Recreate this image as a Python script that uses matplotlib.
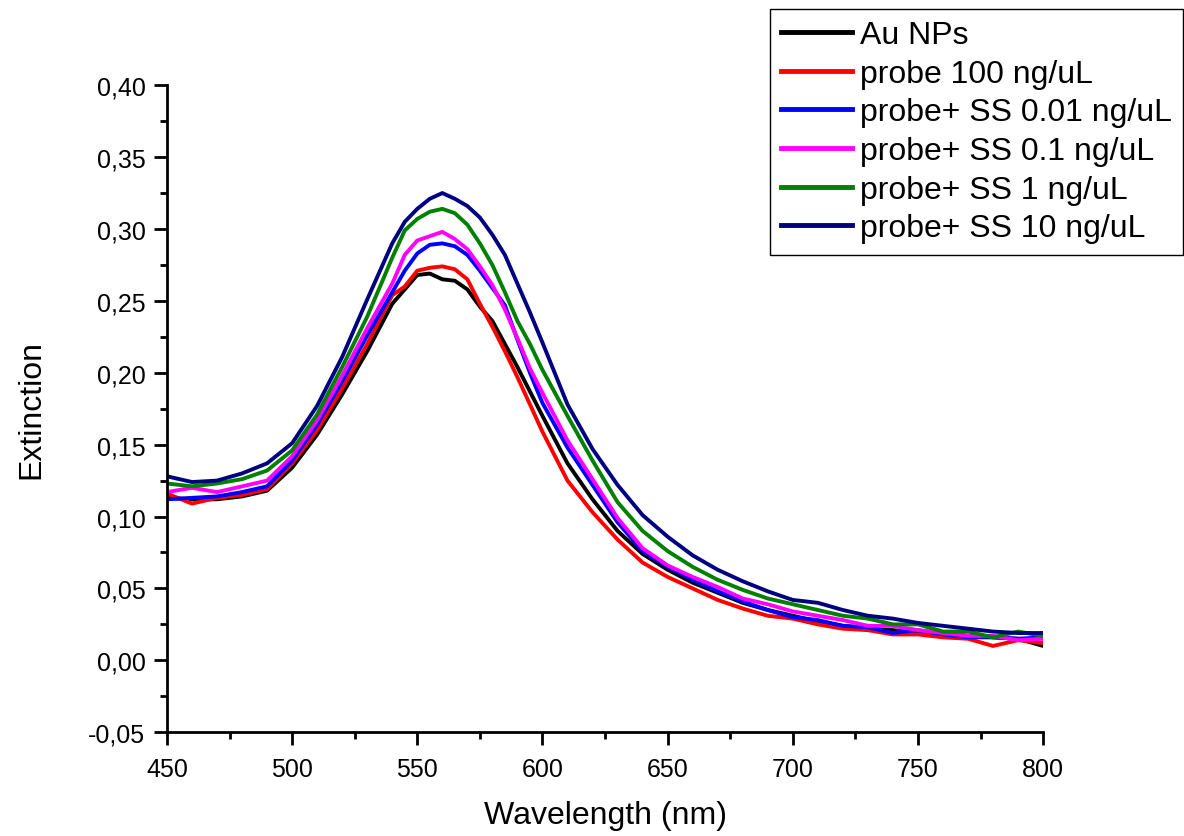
#!/usr/bin/env python3
"""Extinction spectra of Au NPs with probe / SS additions (Origin-style plot)."""

import matplotlib
matplotlib.use("Agg")
import matplotlib.pyplot as plt
import matplotlib.ticker as mticker

# Wavelength grid (nm).
WAVELENGTH = [450, 460, 470, 480, 490, 500, 510, 520, 530, 540, 545, 550, 555,
              560, 565, 570, 575, 580, 585, 590, 595, 600, 610, 620, 630, 640,
              650, 660, 670, 680, 690, 700, 710, 720, 730, 740, 750, 760, 770,
              780, 790, 800]

AU_NPS = [0.113, 0.112, 0.112, 0.114, 0.118, 0.134, 0.157, 0.185, 0.215, 0.248,
          0.258, 0.268, 0.269, 0.265, 0.264, 0.258, 0.246, 0.236, 0.220, 0.204,
          0.187, 0.170, 0.137, 0.112, 0.090, 0.074, 0.063, 0.054, 0.047, 0.040,
          0.035, 0.031, 0.027, 0.024, 0.022, 0.021, 0.019, 0.019, 0.017, 0.016,
          0.015, 0.010]
PROBE_100 = [0.116, 0.109, 0.113, 0.115, 0.119, 0.137, 0.160, 0.189, 0.220, 0.254,
             0.260, 0.271, 0.273, 0.274, 0.272, 0.265, 0.248, 0.232, 0.215, 0.197,
             0.178, 0.159, 0.125, 0.103, 0.084, 0.068, 0.058, 0.050, 0.042, 0.036,
             0.031, 0.029, 0.025, 0.022, 0.021, 0.018, 0.018, 0.016, 0.015, 0.010,
             0.014, 0.012]
SS_001 = [0.112, 0.113, 0.114, 0.117, 0.121, 0.139, 0.164, 0.194, 0.226, 0.256,
          0.271, 0.283, 0.289, 0.290, 0.288, 0.282, 0.271, 0.259, 0.247, 0.223,
          0.200, 0.179, 0.148, 0.122, 0.096, 0.076, 0.065, 0.056, 0.048, 0.041,
          0.035, 0.030, 0.028, 0.024, 0.023, 0.019, 0.021, 0.018, 0.016, 0.016,
          0.015, 0.016]
SS_01 = [0.117, 0.120, 0.117, 0.121, 0.125, 0.142, 0.167, 0.198, 0.231, 0.262,
         0.282, 0.292, 0.295, 0.298, 0.293, 0.286, 0.274, 0.261, 0.244, 0.224,
         0.203, 0.186, 0.153, 0.126, 0.099, 0.078, 0.066, 0.058, 0.051, 0.043,
         0.039, 0.034, 0.031, 0.028, 0.024, 0.024, 0.021, 0.019, 0.017, 0.017,
         0.014, 0.015]
SS_1 = [0.123, 0.121, 0.123, 0.126, 0.132, 0.146, 0.171, 0.204, 0.239, 0.280,
        0.299, 0.307, 0.312, 0.314, 0.311, 0.303, 0.290, 0.275, 0.256, 0.236,
        0.220, 0.202, 0.170, 0.139, 0.110, 0.090, 0.076, 0.065, 0.056, 0.049,
        0.043, 0.039, 0.035, 0.031, 0.029, 0.025, 0.025, 0.020, 0.020, 0.016,
        0.020, 0.017]
SS_10 = [0.128, 0.124, 0.125, 0.130, 0.137, 0.151, 0.177, 0.211, 0.251, 0.290,
         0.305, 0.314, 0.321, 0.325, 0.321, 0.316, 0.308, 0.296, 0.282, 0.262,
         0.242, 0.221, 0.178, 0.147, 0.122, 0.101, 0.086, 0.073, 0.063, 0.055,
         0.048, 0.042, 0.040, 0.035, 0.031, 0.029, 0.026, 0.024, 0.022, 0.020,
         0.019, 0.019]

LABELS = ["Au NPs", "probe 100 ng/uL", "probe+ SS 0.01 ng/uL",
          "probe+ SS 0.1 ng/uL", "probe+ SS 1 ng/uL", "probe+ SS 10 ng/uL"]
COLORS = ["#000000", "#ff0000", "#0000ff", "#ff00ff", "#008000", "#000080"]


def _set_style():
    plt.rcParams.update({
        "font.family": ["Liberation Sans", "DejaVu Sans"],
        "axes.linewidth": 2.0,
        "xtick.direction": "out",
        "ytick.direction": "out",
        "xtick.major.size": 9.5,
        "ytick.major.size": 9.5,
        "xtick.minor.size": 5.0,
        "ytick.minor.size": 5.0,
        "xtick.major.width": 2.0,
        "ytick.major.width": 2.0,
        "xtick.minor.width": 2.0,
        "ytick.minor.width": 2.0,
        "xtick.labelsize": 18,
        "ytick.labelsize": 18,
        "axes.labelsize": 23,
    })


def main():
    _set_style()
    fig = plt.figure(figsize=(11.84, 8.37), dpi=100)
    ax = fig.add_axes([0.141, 0.124, 0.740, 0.773])

    series = [AU_NPS, PROBE_100, SS_001, SS_01, SS_1, SS_10]
    for vals, lab, col in zip(series, LABELS, COLORS):
        ax.plot(WAVELENGTH, vals, color=col, lw=2.8, label=lab)

    ax.set_xlim(450, 800)
    ax.set_ylim(-0.05, 0.40)
    ax.spines["top"].set_visible(False)
    ax.spines["right"].set_visible(False)

    ax.xaxis.set_major_locator(mticker.MultipleLocator(50))
    ax.xaxis.set_minor_locator(mticker.MultipleLocator(25))
    ax.yaxis.set_major_locator(mticker.MultipleLocator(0.05))
    ax.yaxis.set_minor_locator(mticker.MultipleLocator(0.025))
    # decimal comma, like the original Origin export
    ax.yaxis.set_major_formatter(
        mticker.FuncFormatter(lambda v, _: f"{v:.2f}".replace(".", ",").replace("\u2212", "-")))
    ax.tick_params(axis="both", which="major", pad=6)
    ax.tick_params(axis="x", which="major", pad=8)

    ax.set_xlabel("Wavelength (nm)", labelpad=14)
    ax.set_ylabel("Extinction", labelpad=30)

    leg = fig.legend(loc="upper right", bbox_to_anchor=(0.999, 0.988),
                     fontsize=23, frameon=True, fancybox=False,
                     edgecolor="black", framealpha=1.0, borderpad=0.35,
                     labelspacing=0.27, handlelength=2.2, handletextpad=0.25,
                     borderaxespad=0.0)
    leg.get_frame().set_linewidth(1.0)
    for line in leg.get_lines():
        line.set_linewidth(3.5)

    fig.savefig("out.png", dpi=100)
    plt.close(fig)


if __name__ == "__main__":
    main()
